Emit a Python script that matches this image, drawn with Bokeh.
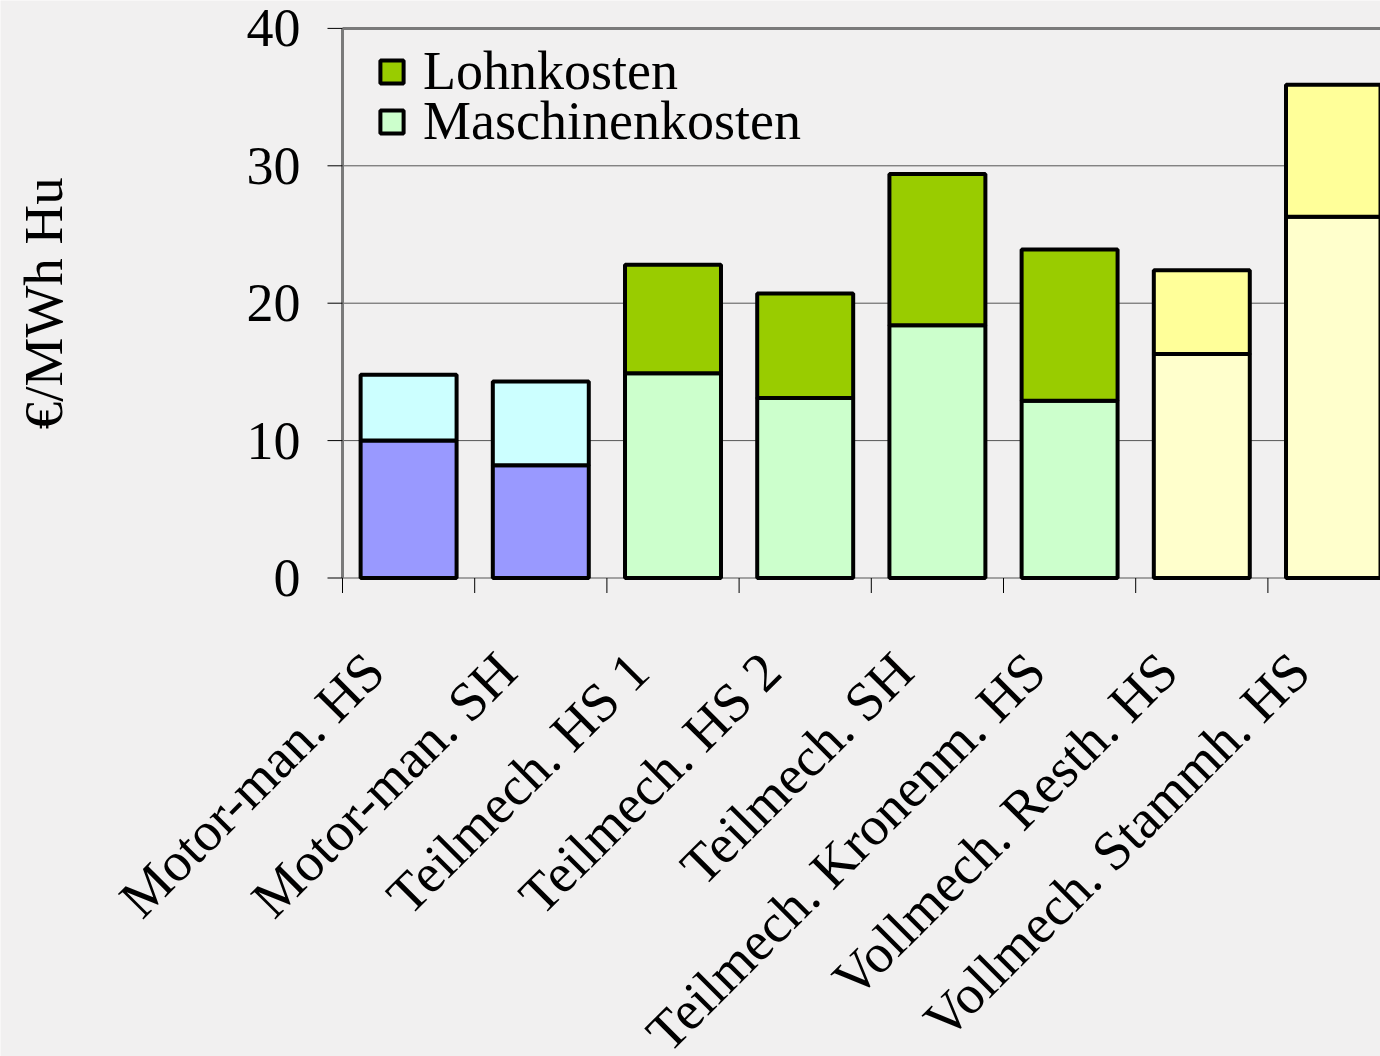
import math

from bokeh.core.properties import value
from bokeh.embed import file_html
from bokeh.models import ColumnDataSource, Legend, LegendItem, Range1d
from bokeh.plotting import figure
from bokeh.resources import INLINE

# Harvesting methods and their cost components (EUR per MWh Hu)
kategorien = [
    "Motor-man. HS",
    "Motor-man. SH",
    "Teilmech. HS 1",
    "Teilmech. HS 2",
    "Teilmech. SH",
    "Teilmech. Kronenm. HS",
    "Vollmech. Resth. HS",
    "Vollmech. Stammh. HS",
]
maschinenkosten = [10.0, 8.2, 14.9, 13.1, 18.4, 12.9, 16.3, 26.3]
lohnkosten = [4.8, 6.1, 7.9, 7.6, 11.0, 11.0, 6.1, 9.6]

# colour families: motor-manual / part-mechanised / fully mechanised
farbe_maschine = ["#9999FF", "#9999FF", "#CCFFCC", "#CCFFCC",
                  "#CCFFCC", "#CCFFCC", "#FFFFCC", "#FFFFCC"]
farbe_lohn = ["#CCFFFF", "#CCFFFF", "#99CC00", "#99CC00",
              "#99CC00", "#99CC00", "#FFFF99", "#FFFF99"]

y_ticks = [0, 10, 20, 30, 40]
y_grid = [0, 10, 20, 30]
y_title = "€/MWh Hu"

SERIF = "Liberation Serif"
BG = "#f1f0f0"
AXIS_GREY = "#7a7a7a"

W, H = 1380, 1056
# page layout: plot area starts 342 px from the left, zero line 577.5 px down
LEFT_PX, ZERO_PX = 342, 577.5
PX_PER_CAT, PX_PER_UNIT = 132.2, 13.74

n = len(kategorien)
mitte = [i + 0.5 for i in range(n)]
grenzen = list(range(n + 1))
gesamt = [m + l for m, l in zip(maschinenkosten, lohnkosten)]

x_lo = -LEFT_PX / PX_PER_CAT
x_hi = (W - LEFT_PX) / PX_PER_CAT
y_hi = ZERO_PX / PX_PER_UNIT
y_lo = -(H - ZERO_PX) / PX_PER_UNIT

src_m = ColumnDataSource(dict(x=mitte, bottom=[0] * n,
                              top=maschinenkosten, color=farbe_maschine))
src_l = ColumnDataSource(dict(x=mitte, bottom=maschinenkosten,
                              top=gesamt, color=farbe_lohn))

# the frame covers the whole page; axes are drawn as plain marks so that the
# slanted category names are not clipped
p = figure(
    width=W, height=H,
    x_range=Range1d(x_lo, x_hi), y_range=Range1d(y_lo, y_hi),
    output_backend="svg", toolbar_location=None,
    min_border=0,
    background_fill_color=BG, border_fill_color=BG,
    x_axis_location=None, y_axis_location=None,
)
p.outline_line_color = None
p.grid.visible = False

# horizontal gridlines (the one at 0 is the category axis line)
p.segment(x0=[0] * len(y_grid), y0=y_grid, x1=[x_hi] * len(y_grid), y1=y_grid,
          line_color="#555555", line_width=1)

bw = 0.726
r_m = p.vbar(x="x", bottom="bottom", top="top", width=bw, source=src_m,
             fill_color="color", line_color="black", line_width=4)
r_l = p.vbar(x="x", bottom="bottom", top="top", width=bw, source=src_l,
             fill_color="color", line_color="black", line_width=4)

# plot area top border and value axis line
y_max = y_ticks[-1]
p.segment(x0=[0, 0], y0=[y_max, 0], x1=[x_hi, 0], y1=[y_max, y_max],
          line_color=AXIS_GREY, line_width=3)

# value-axis ticks and labels
tick_x = 15 / PX_PER_CAT
p.segment(x0=[-tick_x] * len(y_ticks), y0=y_ticks, x1=[0] * len(y_ticks), y1=y_ticks,
          line_color="black", line_width=1)
p.text(x=[0] * len(y_ticks), y=y_ticks, text=[str(t) for t in y_ticks],
       x_offset=-42, text_align="right", text_baseline="middle",
       text_font=value(SERIF), text_font_size=value("54px"), text_color="black")

# value-axis title, centred on the 0..40 span
p.text(x=[0], y=[y_max / 2], text=[y_title], angle=math.pi / 2,
       x_offset=-299, text_align="center", text_baseline="middle",
       text_font=value(SERIF), text_font_size=value("55px"), text_color="black")

# separator ticks between categories
tick_y = 15 / PX_PER_UNIT
p.segment(x0=grenzen, y0=[0] * (n + 1), x1=grenzen, y1=[-tick_y] * (n + 1),
          line_color="black", line_width=1)

# slanted category names ending just left of and below each bar
p.text(x=mitte, y=[0] * n, text=kategorien, angle=math.pi / 4,
       x_offset=-34, y_offset=84,
       text_align="right", text_baseline="middle",
       text_font=value(SERIF), text_font_size=value("55px"),
       text_color="black")

# one legend box per entry so both rows can be placed precisely
legend_style = dict(
    background_fill_alpha=0, border_line_color=None,
    glyph_width=29, glyph_height=29, label_standoff=17,
    label_text_font=SERIF, label_text_font_size="54px",
    label_text_color="black", padding=0, margin=0,
)
leg_lohn = Legend(items=[LegendItem(label="Lohnkosten", renderers=[r_l], index=2)],
                  location=(377, 954), **legend_style)
leg_masch = Legend(items=[LegendItem(label="Maschinenkosten", renderers=[r_m], index=2)],
                   location=(377, 904), **legend_style)
p.add_layout(leg_lohn, "center")
p.add_layout(leg_masch, "center")

open("out.html", "w").write(file_html(p, INLINE))
